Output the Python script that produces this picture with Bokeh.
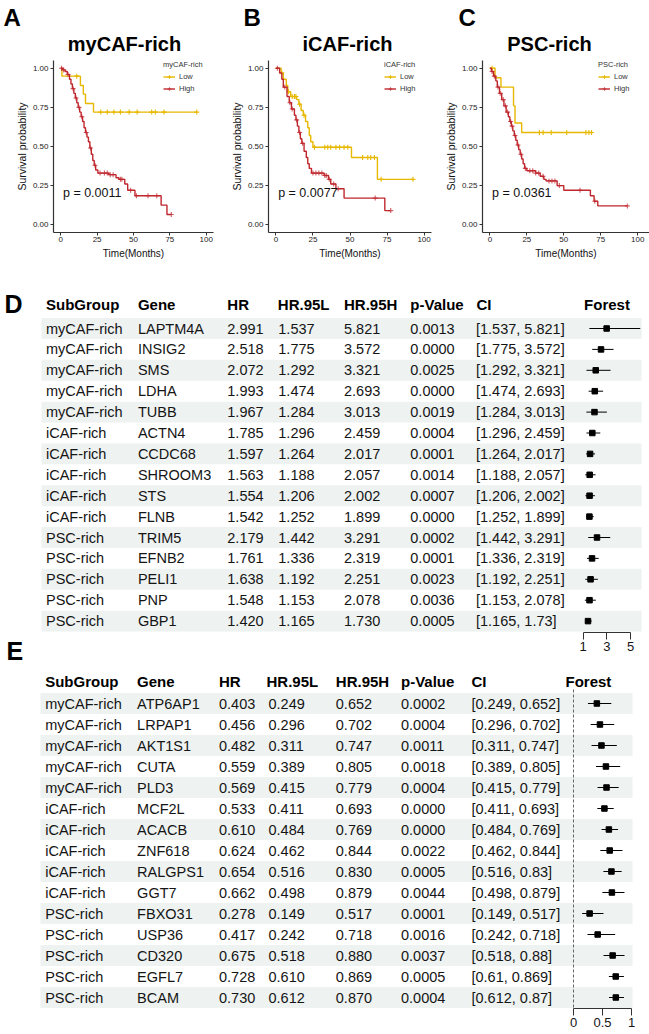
import numpy as np
from bokeh.plotting import figure
from bokeh.models import (Range1d, LinearAxis, Legend, LegendItem, FixedTicker,
                          NumeralTickFormatter)
from bokeh.layouts import column, row
from bokeh.embed import file_html
from bokeh.resources import INLINE
from bokeh.core.properties import value

FONT = "Liberation Sans"
LOW_C = "#E7B800"
HIGH_C = "#C0272D"
STRIPE = "#EEF2F1"

# ---------------- Kaplan-Meier data ----------------
km_xticks = [0, 25, 50, 75, 100]
km_yticks = [0, 0.25, 0.5, 0.75, 1.0]

a_low_t = [0, 0.8, 13.5, 15.5, 17, 22.5]
a_low_s = [1.0, 0.95, 0.89, 0.835, 0.775, 0.72]
a_low_end = 93.5
a_low_cens = [11, 27.5, 32, 36.5, 41, 47, 52.5, 62.5, 65, 71, 93.5]
a_high_t = [0, 1.5, 3, 4.5, 6, 7, 8, 9, 10, 11, 12, 13, 14, 15, 16, 17, 18, 19, 20, 21,
            22, 23, 24, 25.5, 33, 38, 40, 44, 46, 51, 69, 73]
a_high_s = [1.0, 0.99, 0.98, 0.96, 0.93, 0.90, 0.87, 0.84, 0.81, 0.78, 0.75, 0.72, 0.69,
            0.66, 0.62, 0.59, 0.56, 0.53, 0.49, 0.45, 0.41, 0.38, 0.35, 0.33, 0.32, 0.30,
            0.29, 0.26, 0.22, 0.185, 0.125, 0.065]
a_high_end = 76
a_high_cens = [0.5, 2, 5, 8.5, 10.5, 12.5, 14.5, 17.5, 20.5, 23.5, 27, 30, 32, 34, 36,
               41, 42, 48, 52, 60, 66, 76]

b_low_t = [0, 3.5, 5, 7, 8, 10, 14, 15.5, 17, 18.5, 20, 21.5, 22.5, 23.5, 25, 51, 68.5]
b_low_s = [1.0, 0.97, 0.93, 0.89, 0.85, 0.82, 0.80, 0.77, 0.73, 0.70, 0.66, 0.62, 0.57,
           0.53, 0.495, 0.43, 0.29]
b_low_end = 92.5
b_low_cens = [4, 8.5, 11, 12.5, 13.5, 16, 19, 26, 33, 35, 37, 40.5, 43, 46, 48.5, 58.5,
              62, 64, 66.5, 71, 92.5]
b_high_t = [0, 2.5, 4, 5, 7.5, 9, 10.5, 12.5, 13.5, 14.5, 15.5, 16.5, 17.5, 19, 20.5,
            21.5, 22.5, 24, 32.5, 35.5, 37, 40.5, 46, 73.5]
b_high_s = [1.0, 0.97, 0.93, 0.88, 0.82, 0.78, 0.74, 0.70, 0.67, 0.63, 0.59, 0.55, 0.52,
            0.47, 0.43, 0.39, 0.36, 0.33, 0.315, 0.29, 0.26, 0.23, 0.17, 0.09]
b_high_end = 77.5
b_high_cens = [1, 6, 9.5, 11, 14, 16, 18, 25, 27, 29, 31, 33, 34, 36, 39, 42, 67, 77.5]

c_low_t = [0, 3.5, 7.5, 16, 17, 21.5]
c_low_s = [1.0, 0.94, 0.88, 0.76, 0.65, 0.59]
c_low_end = 68.8
c_low_cens = [1.5, 33.5, 36, 41.5, 52, 65, 67, 68.8]
c_high_t = [0, 1, 2.5, 4, 5, 6.5, 8, 9.5, 11, 12.5, 13.5, 14.5, 15.5, 16.5, 17.5, 18.5,
            19.5, 20.5, 21.5, 22.5, 23.5, 25, 31, 34, 36.5, 38, 45.5, 50, 68, 70.5, 73]
c_high_s = [1.0, 0.98, 0.95, 0.92, 0.88, 0.84, 0.80, 0.76, 0.72, 0.69, 0.66, 0.63, 0.60,
            0.57, 0.54, 0.51, 0.48, 0.45, 0.42, 0.39, 0.36, 0.345, 0.33, 0.31, 0.29, 0.28,
            0.25, 0.22, 0.185, 0.15, 0.12]
c_high_end = 93
c_high_cens = [1.5, 3, 5.5, 7, 9, 10.5, 12, 14, 15, 17, 19, 21, 24, 27, 29, 31, 33, 36,
               40, 42, 44, 47, 61, 71, 93]

# ---------------- Forest table data ----------------
header_labels = ["SubGroup", "Gene", "HR", "HR.95L", "HR.95H", "p-Value", "CI", "Forest"]
subgroups = ["myCAF-rich"] * 5 + ["iCAF-rich"] * 5 + ["PSC-rich"] * 5

genes_D = ["LAPTM4A", "INSIG2", "SMS", "LDHA", "TUBB", "ACTN4", "CCDC68", "SHROOM3", "STS",
           "FLNB", "TRIM5", "EFNB2", "PELI1", "PNP", "GBP1"]
hr_D = [2.991, 2.518, 2.072, 1.993, 1.967, 1.785, 1.597, 1.563, 1.554, 1.542, 2.179, 1.761,
        1.638, 1.548, 1.420]
lo_D = [1.537, 1.775, 1.292, 1.474, 1.284, 1.296, 1.264, 1.188, 1.206, 1.252, 1.442, 1.336,
        1.192, 1.153, 1.165]
hi_D = [5.821, 3.572, 3.321, 2.693, 3.013, 2.459, 2.017, 2.057, 2.002, 1.899, 3.291, 2.319,
        2.251, 2.078, 1.730]
p_D = ["0.0013", "0.0000", "0.0025", "0.0000", "0.0019", "0.0004", "0.0001", "0.0014",
       "0.0007", "0.0000", "0.0002", "0.0001", "0.0023", "0.0036", "0.0005"]
ticks_D = [1, 3, 5]
tick_labels_D = ["1", "3", "5"]

genes_E = ["ATP6AP1", "LRPAP1", "AKT1S1", "CUTA", "PLD3", "MCF2L", "ACACB", "ZNF618",
           "RALGPS1", "GGT7", "FBXO31", "USP36", "CD320", "EGFL7", "BCAM"]
hr_E = [0.403, 0.456, 0.482, 0.559, 0.569, 0.533, 0.610, 0.624, 0.654, 0.662, 0.278, 0.417,
        0.675, 0.728, 0.730]
lo_E = [0.249, 0.296, 0.311, 0.389, 0.415, 0.411, 0.484, 0.462, 0.516, 0.498, 0.149, 0.242,
        0.518, 0.610, 0.612]
hi_E = [0.652, 0.702, 0.747, 0.805, 0.779, 0.693, 0.769, 0.844, 0.830, 0.879, 0.517, 0.718,
        0.880, 0.869, 0.870]
p_E = ["0.0002", "0.0004", "0.0011", "0.0018", "0.0004", "0.0000", "0.0000", "0.0022",
       "0.0005", "0.0044", "0.0001", "0.0016", "0.0037", "0.0005", "0.0004"]
ticks_E = [0, 0.5, 1]
tick_labels_E = ["0", "0.5", "1"]
ref_E = 0

PAGE_W = 649


def step_at(ts, ss, t):
    i = int(np.searchsorted(np.asarray(ts, dtype=float), t, side="right")) - 1
    return ss[max(i, 0)]


def txt(p, x, y, s, size, bold=False, align="left", baseline="middle", color="black"):
    p.text(x=[x], y=[y], text=[s], text_font=value(FONT), text_font_size=size,
           text_font_style="bold" if bold else "normal", text_align=align,
           text_baseline=baseline, text_color=color)


def km_figure(letter, title, strata, pval, low, high, geom):
    fig_x0, fig_w, fl, fw, xend, letter_x, title_cx, leg_x = geom
    x0, y0, y1 = -5.0, -0.05, 1.05
    ft, fh = 60, 172           # panel top / height (page px)
    fig_top, fig_h = 0, 270
    X = lambda a: x0 + (a - fl) * (xend - x0) / fw
    Y = lambda a: y1 - (a - ft) * (y1 - y0) / fh
    p = figure(width=fig_w, height=fig_h,
               x_range=Range1d(X(fig_x0), X(fig_x0 + fig_w)),
               y_range=Range1d(Y(fig_top + fig_h), Y(fig_top)),
               output_backend="svg", toolbar_location=None,
               min_border_left=0, min_border_right=0, min_border_top=0, min_border_bottom=0)
    p.xgrid.visible = False
    p.ygrid.visible = False
    p.outline_line_color = None
    p.xaxis.fixed_location = y0
    p.xaxis.bounds = (x0, xend)
    p.yaxis.fixed_location = x0
    p.yaxis.bounds = (y0, y1)
    p.xaxis.ticker = FixedTicker(ticks=km_xticks)
    p.yaxis.ticker = FixedTicker(ticks=km_yticks)
    p.yaxis.formatter = NumeralTickFormatter(format="0.00")
    for ax in (p.xaxis, p.yaxis):
        ax.axis_line_color = "#333333"
        ax.axis_line_width = 1.2
        ax.major_tick_line_color = "#333333"
        ax.major_tick_out = 3
        ax.major_tick_in = 0
        ax.minor_tick_line_color = None
        ax.major_label_text_font = FONT
        ax.major_label_text_font_size = "8px"
        ax.major_label_text_color = "#222222"
        ax.axis_label_text_font = FONT
        ax.axis_label_text_font_style = "normal"
        ax.axis_label_text_color = "#111111"
    p.xaxis.axis_label = "Time(Months)"
    p.xaxis.axis_label_text_font_size = "10px"
    p.xaxis.axis_label_standoff = 3
    p.xaxis.major_label_standoff = 1
    p.yaxis.axis_label = "Survival probability"
    p.yaxis.axis_label_text_font_size = "10.5px"
    p.yaxis.axis_label_standoff = 2
    p.yaxis.major_label_standoff = 2

    rends = []
    for (ts, ss, tend, cens), col, alpha in ((low, LOW_C, 1.0), (high, HIGH_C, 0.75)):
        ln = p.step(x=list(ts) + [tend], y=list(ss) + [ss[-1]], mode="after",
                    line_color=col, line_width=1.4)
        cy = [step_at(ts, ss, t) for t in cens]
        sc = p.scatter(x=cens, y=cy, marker="cross", size=5, line_color=col,
                       line_width=1.1, line_alpha=alpha)
        rends.append((ln, sc))

    leg = Legend(items=[LegendItem(label="Low", renderers=list(rends[0])),
                        LegendItem(label="High", renderers=list(rends[1]))],
                 location=(leg_x - fig_x0, fig_top + fig_h - 95), title=strata,
                 title_text_font=FONT, title_text_font_size="7.5px",
                 title_text_font_style="normal", title_text_color="#333333",
                 label_text_font=FONT, label_text_font_size="7.5px",
                 label_text_color="#333333", glyph_width=12, glyph_height=9,
                 label_height=9, label_standoff=4, spacing=3, padding=2, margin=0,
                 title_standoff=3, border_line_alpha=0, background_fill_alpha=0)
    p.add_layout(leg)

    txt(p, 1.5, 0.2, pval, "12.5px", color="#111111")
    txt(p, X(letter_x), Y(17), letter, "24px", bold=True)
    txt(p, X(title_cx), Y(43), title, "20px", bold=True, align="center")
    return p


fA = km_figure("A", "myCAF-rich", "myCAF-rich", "p = 0.0011",
               (a_low_t, a_low_s, a_low_end, a_low_cens),
               (a_high_t, a_high_s, a_high_end, a_high_cens),
               (0, 222, 53, 160, 105, 3, 124, 161))
fB = km_figure("B", "iCAF-rich", "iCAF-rich", "p = 0.0077",
               (b_low_t, b_low_s, b_low_end, b_low_cens),
               (b_high_t, b_high_s, b_high_end, b_high_cens),
               (222, 216, 268, 163, 105, 243, 347, 382))
fC = km_figure("C", "PSC-rich", "PSC-rich", "p = 0.0361",
               (c_low_t, c_low_s, c_low_end, c_low_cens),
               (c_high_t, c_high_s, c_high_end, c_high_cens),
               (438, 211, 482, 167, 108, 458, 549, 596))


def table_figure(letter, genes, hr, lo, hi, pv, ticks, tick_labels, g):
    (fig_top, fig_h, row0, row_h, header_abs, letter_mid, letter_x, col_x, head_x,
     stripe_l, stripe_r, hr_px, axis_abs, tick_out, lab_size, lab_stand) = g
    Y = lambda a: (a - row0) / row_h
    t0, t1 = ticks[0], ticks[-1]
    HRc = lambda a: t0 + (a - hr_px[0]) * (t1 - t0) / (hr_px[1] - hr_px[0])
    p = figure(width=PAGE_W, height=fig_h, x_range=Range1d(0, PAGE_W),
               y_range=Range1d(Y(fig_top + fig_h), Y(fig_top)),
               x_axis_location=None, y_axis_location=None,
               min_border_left=0, min_border_right=0, min_border_top=0, min_border_bottom=0,
               output_backend="svg", toolbar_location=None)
    p.extra_x_ranges = {"hr": Range1d(HRc(0), HRc(PAGE_W))}
    p.xgrid.visible = False
    p.ygrid.visible = False
    p.outline_line_color = None

    n = len(genes)
    rows = list(range(n))
    p.hbar(y=rows[::2], height=1, left=stripe_l, right=stripe_r, fill_color=STRIPE,
           line_color=None)

    cols = [subgroups, genes, ["%.3f" % v for v in hr], ["%.3f" % v for v in lo],
            ["%.3f" % v for v in hi], pv, ["[%s, %s]" % (format(a, "g"), format(b, "g"))
                                          for a, b in zip(lo, hi)]]
    for cx, strs in zip(col_x, cols):
        p.text(x=[cx] * n, y=rows, text=strs, text_font=value(FONT),
               text_font_size="14.5px", text_baseline="middle", text_color="#151515")
    p.text(x=head_x, y=[Y(header_abs)] * len(header_labels), text=header_labels,
           text_font=value(FONT), text_font_size="15px", text_font_style="bold",
           text_baseline="middle", text_color="black")
    if letter:
        txt(p, letter_x, Y(letter_mid), letter, "25px", bold=True)

    p.segment(x0=lo, y0=rows, x1=hi, y1=rows, x_range_name="hr", line_color="black",
              line_width=1)
    p.scatter(x=hr, y=rows, marker="square", size=5.5, fill_color="black",
              line_color="black", x_range_name="hr")

    ax = LinearAxis(x_range_name="hr", ticker=FixedTicker(ticks=ticks), bounds=(t0, t1),
                    fixed_location=Y(axis_abs))
    ax.major_label_overrides = {t: s for t, s in zip(ticks, tick_labels)}
    ax.axis_line_color = "#333333"
    ax.major_tick_line_color = "#333333"
    ax.major_tick_out = tick_out
    ax.major_tick_in = 0
    ax.minor_tick_line_color = None
    ax.major_label_standoff = lab_stand
    ax.major_label_text_font = FONT
    ax.major_label_text_font_size = lab_size
    ax.major_label_text_color = "#151515"
    p.add_layout(ax, "below")
    return p, Y


fD, YD = table_figure("D", genes_D, hr_D, lo_D, hi_D, p_D, ticks_D, tick_labels_D,
                      (270, 398, 328, 20.9, 304, 303, 4,
                       [45.5, 137.4, 226.8, 277.8, 343.5, 409.8, 475.5],
                       [45.5, 137.4, 226.8, 277.3, 343.5, 409.8, 476, 583.6],
                       41, 641, (582.5, 630), 632, 7, "13px", 2))
txt(fD, 6, YD(650), "E", "25px", bold=True)

fE, YE = table_figure("", genes_E, hr_E, lo_E, hi_E, p_E, ticks_E, tick_labels_E,
                      (668, 366, 703, 21, 681, 680, 6,
                       [44.7, 136.6, 218.5, 268, 335.3, 400.5, 471],
                       [44.7, 136.6, 218.5, 266, 335.3, 400.5, 471, 565],
                       40, 632, (573, 631), 1008, 7, "13px", 2))
fE.segment(x0=[ref_E], y0=[YE(689)], x1=[ref_E], y1=[YE(1008)], x_range_name="hr",
           line_color="#555555", line_width=0.9, line_dash="3 2")

layout = column(row(fA, fB, fC), fD, fE)
open("out.html", "w").write(file_html(layout, INLINE))
